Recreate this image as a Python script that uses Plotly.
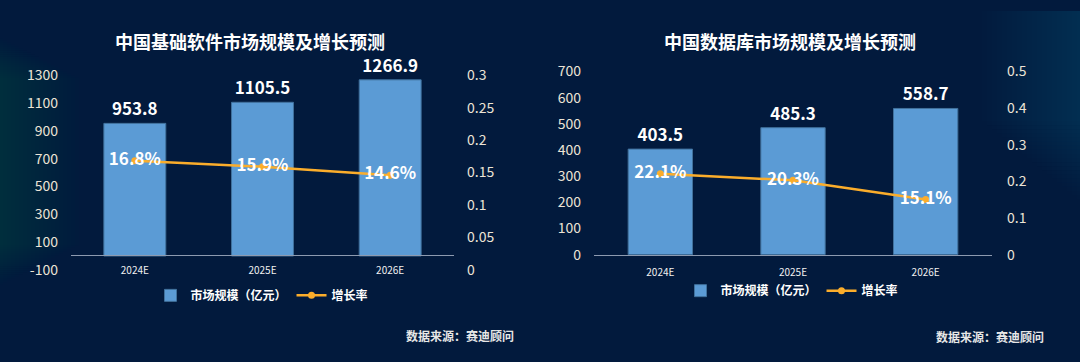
import plotly.graph_objects as go

# ---------------- data ----------------
categories = ["2024E", "2025E", "2026E"]

soft_titles = "中国基础软件市场规模及增长预测"
soft_size = [953.8, 1105.5, 1266.9]          # 亿元
soft_growth = [0.168, 0.159, 0.146]

db_title = "中国数据库市场规模及增长预测"
db_size = [403.5, 485.3, 558.7]              # 亿元
db_growth = [0.221, 0.203, 0.151]

soft_size_ticks = [-100, 100, 300, 500, 700, 900, 1100, 1300]
soft_size_ticktext = ["-100", "100", "300", "500", "700", "900", "1100", "1300"]
soft_growth_ticks = [0, 0.05, 0.1, 0.15, 0.2, 0.25, 0.3]
soft_growth_ticktext = ["0", "0.05", "0.1", "0.15", "0.2", "0.25", "0.3"]
db_size_ticks = [0, 100, 200, 300, 400, 500, 600, 700]
db_size_ticktext = ["0", "100", "200", "300", "400", "500", "600", "700"]
db_growth_ticks = [0, 0.1, 0.2, 0.3, 0.4, 0.5]
db_growth_ticktext = ["0", "0.1", "0.2", "0.3", "0.4", "0.5"]

size_name = "市场规模（亿元）"
growth_name = "增长率"
source_text = "数据来源：赛迪顾问"

# ---------------- style ----------------
W, H = 1080, 362
BG = "#021a3d"
BAR = "#5b9bd5"
BAR_EDGE = "#41719c"
LINE = "#fbad2b"
TICK = "#ece4d6"
FONT = "Noto Sans CJK SC, Noto Sans, sans-serif"

def px(x):
    return x / W

def py(y):
    return 1 - y / H

fig = go.Figure()

fig.add_trace(go.Bar(
    x=categories, y=soft_size, name=size_name,
    marker=dict(color=BAR, line=dict(color=BAR_EDGE, width=1)),
    text=[f"{v:.1f}" for v in soft_size], textposition="outside",
    textfont=dict(color="white", size=17, family=FONT, weight="bold"),
    cliponaxis=False, xaxis="x", yaxis="y", legend="legend",
))
fig.add_trace(go.Scatter(
    x=categories, y=soft_growth, name=growth_name, mode="lines+markers+text",
    line=dict(color=LINE, width=2.5), marker=dict(color=LINE, size=7),
    texttemplate="%{y:.1%}", textposition="middle center",
    textfont=dict(color="white", size=17, family=FONT, weight="bold"),
    cliponaxis=False, xaxis="x", yaxis="y2", legend="legend",
))
fig.add_trace(go.Bar(
    x=categories, y=db_size, name=size_name,
    marker=dict(color=BAR, line=dict(color=BAR_EDGE, width=1)),
    text=[f"{v:.1f}" for v in db_size], textposition="outside",
    textfont=dict(color="white", size=17, family=FONT, weight="bold"),
    cliponaxis=False, xaxis="x2", yaxis="y3", legend="legend2",
))
fig.add_trace(go.Scatter(
    x=categories, y=db_growth, name=growth_name, mode="lines+markers+text",
    line=dict(color=LINE, width=2.5), marker=dict(color=LINE, size=7),
    texttemplate="%{y:.1%}", textposition="middle center",
    textfont=dict(color="white", size=17, family=FONT, weight="bold"),
    cliponaxis=False, xaxis="x2", yaxis="y4", legend="legend2",
))

# background glow at the edges
shapes = []
for i in range(20):
    w = 3 + i * 4
    shapes.append(dict(type="rect", xref="paper", yref="paper", x0=0, x1=px(w),
                       y0=0.2 + i * 0.006, y1=0.92 - i * 0.006, line=dict(width=0),
                       fillcolor="rgba(25,85,105,0.018)", layer="below"))
for i in range(20):
    w = 3 + i * 5
    shapes.append(dict(type="rect", xref="paper", yref="paper", x0=1 - px(w), x1=1,
                       y0=0.45 + i * 0.012, y1=1, line=dict(width=0),
                       fillcolor="rgba(30,85,175,0.02)", layer="below"))

axis_font = dict(color=TICK, size=14, family=FONT)

fig.update_layout(
    width=W, height=H,
    paper_bgcolor=BG, plot_bgcolor="rgba(0,0,0,0)",
    margin=dict(l=0, r=0, t=0, b=0),
    font=dict(family=FONT, color="white"),
    bargap=0.515,
    showlegend=True,
    shapes=shapes,
    xaxis=dict(domain=[px(71), px(454)], anchor="free", position=py(258),
               showline=True, linecolor="#8d9ab0", linewidth=1,
               showgrid=False, zeroline=False, ticks="",
               tickfont=dict(color="#f0f0f0", size=10, family=FONT),
               ticklabelstandoff=6),
    yaxis=dict(domain=[py(274), py(68)], range=[-100, 1300],
               tickvals=soft_size_ticks, ticktext=soft_size_ticktext,
               showgrid=False, zeroline=False,
               showline=False, tickfont=axis_font, ticklabelstandoff=12,
               anchor="x"),
    yaxis2=dict(domain=[py(274), py(68)], range=[0, 0.3], overlaying="y",
                side="right", anchor="x", tickvals=soft_growth_ticks,
                ticktext=soft_growth_ticktext, showgrid=False, zeroline=False,
                showline=False, tickfont=axis_font, ticklabelstandoff=12),
    xaxis2=dict(domain=[px(594), px(992)], anchor="y3",
                showline=True, linecolor="#8d9ab0", linewidth=1,
                showgrid=False, zeroline=False, ticks="",
                tickfont=dict(color="#f0f0f0", size=10, family=FONT),
                ticklabelstandoff=8),
    yaxis3=dict(domain=[py(258), py(64)], range=[0, 700], anchor="x2",
                tickvals=db_size_ticks, ticktext=db_size_ticktext,
                showgrid=False, zeroline=False,
                showline=False, tickfont=axis_font, ticklabelstandoff=12),
    yaxis4=dict(domain=[py(258), py(64)], range=[0, 0.5], overlaying="y3",
                side="right", anchor="x2", tickvals=db_growth_ticks,
                ticktext=db_growth_ticktext, showgrid=False, zeroline=False,
                showline=False, tickfont=axis_font, ticklabelstandoff=14),
    legend=dict(orientation="h", x=px(262), y=py(301), xanchor="center",
                yanchor="middle", bgcolor="rgba(0,0,0,0)", itemwidth=30,
                font=dict(color="white", size=12, family=FONT, weight="bold")),
    legend2=dict(orientation="h", x=px(792), y=py(296), xanchor="center",
                 yanchor="middle", bgcolor="rgba(0,0,0,0)", itemwidth=30,
                 font=dict(color="white", size=12, family=FONT, weight="bold")),
    annotations=[
        dict(text=f"<b>{soft_titles}</b>", x=px(250), y=py(32), xref="paper",
             yref="paper", showarrow=False, xanchor="center", yanchor="middle",
             font=dict(color="white", size=18, family=FONT)),
        dict(text=f"<b>{db_title}</b>", x=px(790), y=py(32), xref="paper",
             yref="paper", showarrow=False, xanchor="center", yanchor="middle",
             font=dict(color="white", size=18, family=FONT)),
        dict(text=f"<b>{source_text}</b>", x=px(460), y=py(344), xref="paper",
             yref="paper", showarrow=False, xanchor="center", yanchor="middle",
             font=dict(color="#e6e6e6", size=12, family=FONT)),
        dict(text=f"<b>{source_text}</b>", x=px(990), y=py(345), xref="paper",
             yref="paper", showarrow=False, xanchor="center", yanchor="middle",
             font=dict(color="#e6e6e6", size=12, family=FONT)),
    ],
)

fig.write_html(
    "out.html",
    config={"displayModeBar": False},
    post_script="document.body.style.margin='0';document.body.style.overflow='hidden';document.body.style.background='#021a3d';",
)
